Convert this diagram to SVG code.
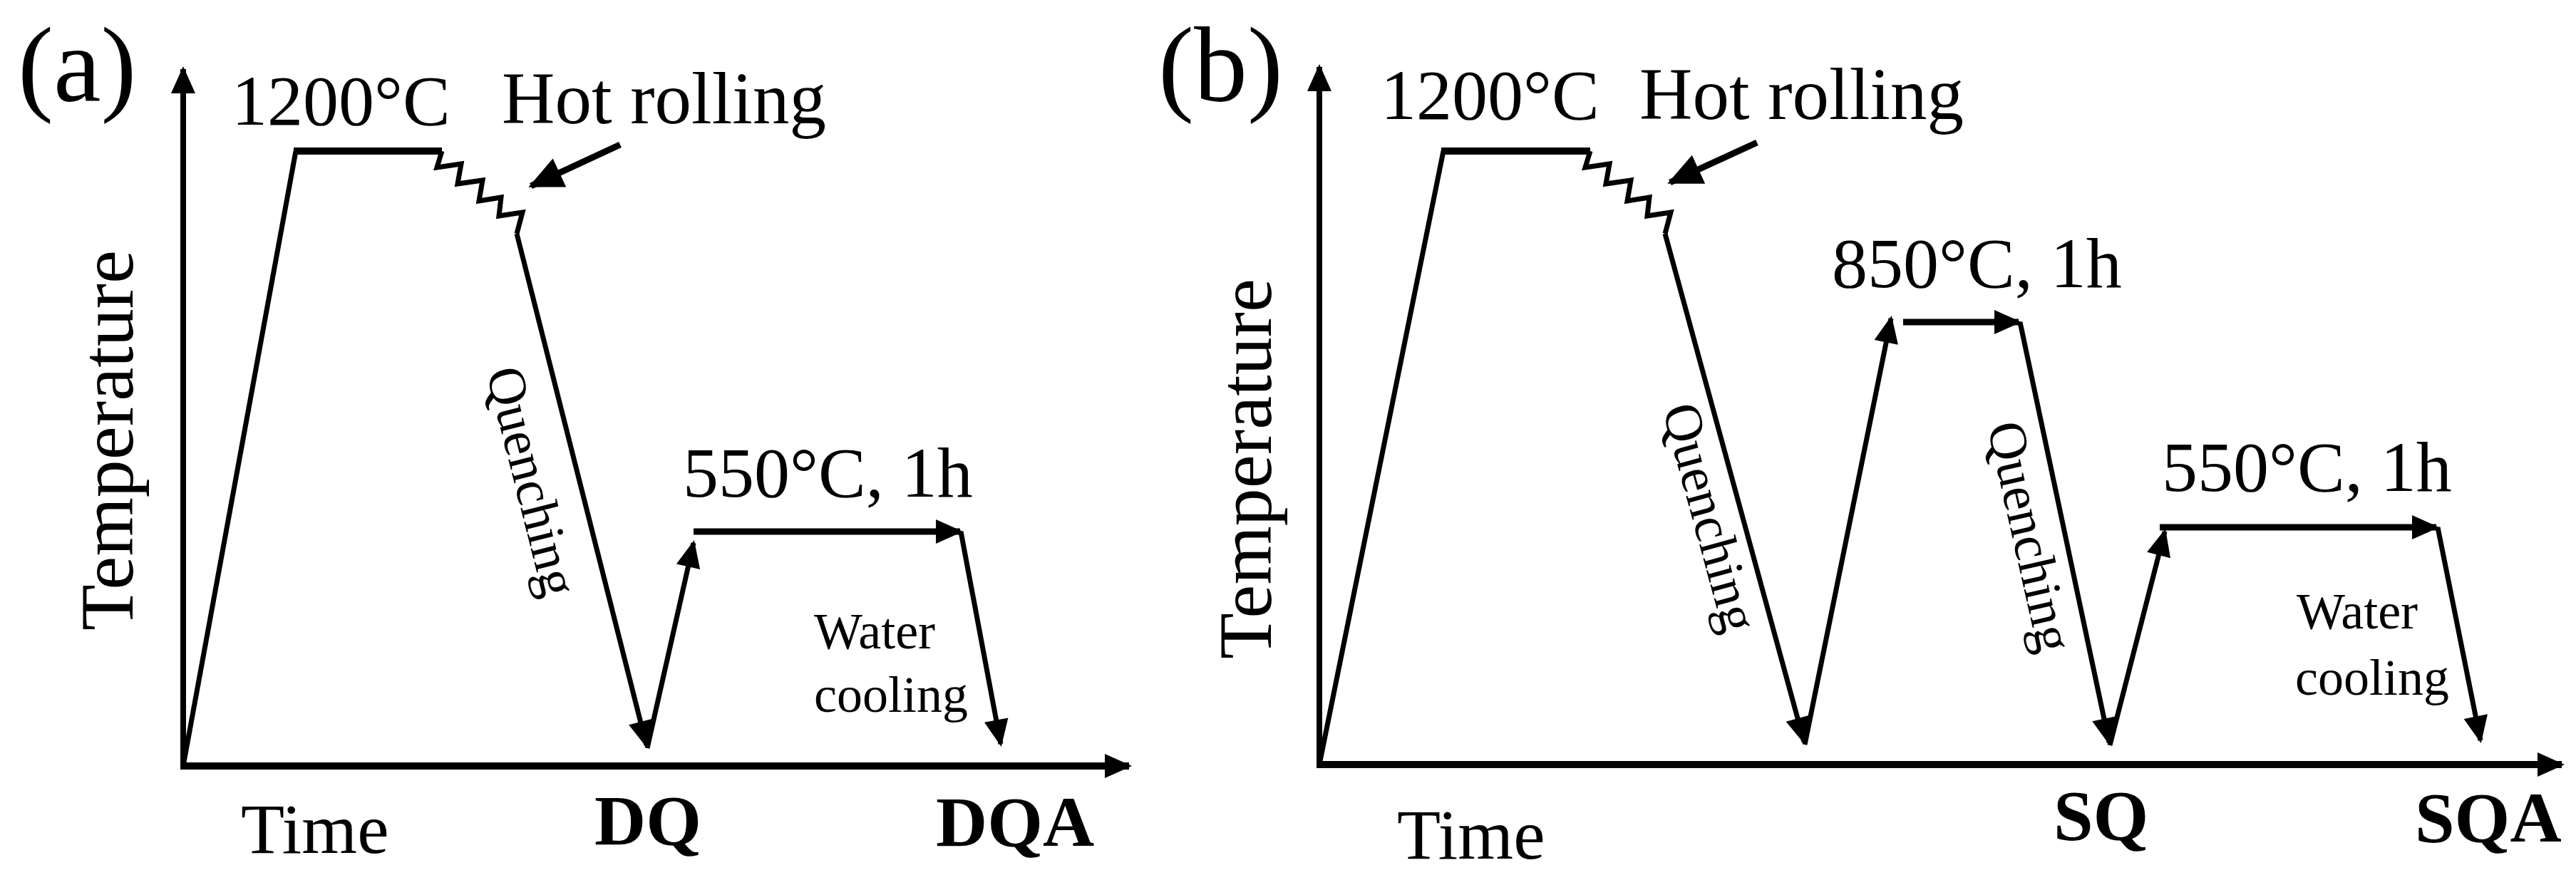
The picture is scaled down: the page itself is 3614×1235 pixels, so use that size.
<svg xmlns="http://www.w3.org/2000/svg" width="3614" height="1235" viewBox="0 0 3614 1235">
<style>
  text { font-family: "Liberation Serif", "Times New Roman", serif; fill: #000; }
  .big { font-size: 150px; }
  .lab { font-size: 100px; }
  .hr { font-size: 103px; }
  .ax { font-size: 106px; }
  .q { font-size: 75px; }
  .wc { font-size: 72px; }
  .bd { font-size: 100px; font-weight: bold; }
  .ln { fill: none; stroke: #000; stroke-width: 7; stroke-linejoin: miter; }
  .axis { fill: none; stroke: #000; stroke-width: 8; }
  .xaxis { fill: none; stroke: #000; stroke-width: 10; }
  .hold { fill: none; stroke: #000; stroke-width: 9; }
  .plat { fill: none; stroke: #000; stroke-width: 10; }
  .hra { fill: none; stroke: #000; stroke-width: 9; }
</style>
<defs>
  <marker id="ah" markerUnits="userSpaceOnUse" orient="auto" markerWidth="1" markerHeight="1" refX="0" refY="0" overflow="visible">
    <path d="M4,0 L-34,-17 L-34,17 Z" fill="#000"/>
  </marker>
  <marker id="ahb" markerUnits="userSpaceOnUse" orient="auto" markerWidth="1" markerHeight="1" refX="0" refY="0" overflow="visible">
    <path d="M4,0 L-44,-22 L-44,22 Z" fill="#000"/>
  </marker>
</defs>

<g id="connectors">
  <!-- panel a -->
  <line class="axis" x1="257" y1="1079" x2="257" y2="97" marker-end="url(#ah)"/>
  <line class="xaxis" x1="253" y1="1075" x2="1584" y2="1075" marker-end="url(#ah)"/>
  <line class="ln" x1="257" y1="1075" x2="415" y2="212"/>
  <line class="plat" x1="412" y1="212" x2="620" y2="212"/>
  <polyline class="ln" points="620,212 613,235 647,230 642,258 677,253 672,282 703,277 700,303 733,298 725,328"/>
  <line class="ln" x1="725" y1="328" x2="907" y2="1046" marker-end="url(#ah)"/>
  <line class="ln" x1="908" y1="1050" x2="973" y2="762" marker-end="url(#ah)"/>
  <line class="hold" x1="973" y1="746" x2="1347" y2="746" marker-end="url(#ah)"/>
  <line class="ln" x1="1348" y1="746" x2="1404" y2="1044" marker-end="url(#ah)"/>
  <line class="hra" x1="870" y1="203" x2="745" y2="261" marker-end="url(#ahb)"/>

  <!-- panel b -->
  <line class="axis" x1="1851" y1="1077" x2="1851" y2="94" marker-end="url(#ah)"/>
  <line class="xaxis" x1="1847" y1="1073" x2="3594" y2="1073" marker-end="url(#ah)"/>
  <line class="ln" x1="1851" y1="1073" x2="2025" y2="212"/>
  <line class="plat" x1="2022" y1="212" x2="2231" y2="212"/>
  <polyline class="ln" points="2231,212 2224,235 2258,230 2253,258 2288,253 2283,282 2314,277 2311,303 2344,298 2336,328"/>
  <line class="ln" x1="2336" y1="328" x2="2531" y2="1041" marker-end="url(#ah)"/>
  <line class="ln" x1="2532" y1="1045" x2="2653" y2="447" marker-end="url(#ah)"/>
  <line class="hold" x1="2670" y1="452" x2="2832" y2="452" marker-end="url(#ah)"/>
  <line class="ln" x1="2834" y1="452" x2="2959" y2="1042" marker-end="url(#ah)"/>
  <line class="ln" x1="2960" y1="1046" x2="3037" y2="746" marker-end="url(#ah)"/>
  <line class="hold" x1="3030" y1="740" x2="3418" y2="740" marker-end="url(#ah)"/>
  <line class="ln" x1="3420" y1="740" x2="3480" y2="1039" marker-end="url(#ah)"/>
  <line class="hra" x1="2465" y1="200" x2="2343" y2="256" marker-end="url(#ahb)"/>
</g>

<g id="panel-a">
  <text id="label-a" class="big" x="25" y="142">(a)</text>
  <text id="a-1200" class="lab" x="325" y="175">1200°C</text>
  <text id="a-hot" class="hr" x="704" y="173">Hot rolling</text>
  <text id="a-temp" class="ax" transform="translate(186,885) rotate(-90)">Temperature</text>
  <text id="a-quench" class="q" transform="translate(682,522) rotate(75.8)">Quenching</text>
  <text id="a-550" class="lab" x="958" y="697">550°C, 1h</text>
  <text id="a-water" class="wc" x="1142" y="910">Water</text>
  <text id="a-cooling" class="wc" x="1142" y="999">cooling</text>
  <text id="a-time" class="lab" x="338" y="1197">Time</text>
  <text id="a-dq" class="bd" x="834" y="1185">DQ</text>
  <text id="a-dqa" class="bd" x="1313" y="1187">DQA</text>
</g>

<g id="panel-b">
  <text id="label-b" class="big" x="1625" y="142">(b)</text>
  <text id="b-1200" class="lab" x="1937" y="167">1200°C</text>
  <text id="b-hot" class="hr" x="2300" y="167">Hot rolling</text>
  <text id="b-temp" class="ax" transform="translate(1783,925) rotate(-90)">Temperature</text>
  <text id="b-quench1" class="q" transform="translate(2332,574) rotate(74.7)">Quenching</text>
  <text id="b-850" class="lab" x="2570" y="403">850°C, 1h</text>
  <text id="b-quench2" class="q" transform="translate(2788,598) rotate(77.3)">Quenching</text>
  <text id="b-550" class="lab" x="3033" y="689">550°C, 1h</text>
  <text id="b-water" class="wc" x="3222" y="882">Water</text>
  <text id="b-cooling" class="wc" x="3220" y="975">cooling</text>
  <text id="b-time" class="lab" x="1960" y="1205">Time</text>
  <text id="b-sq" class="bd" x="2881" y="1178">SQ</text>
  <text id="b-sqa" class="bd" x="3388" y="1181">SQA</text>
</g>
</svg>
